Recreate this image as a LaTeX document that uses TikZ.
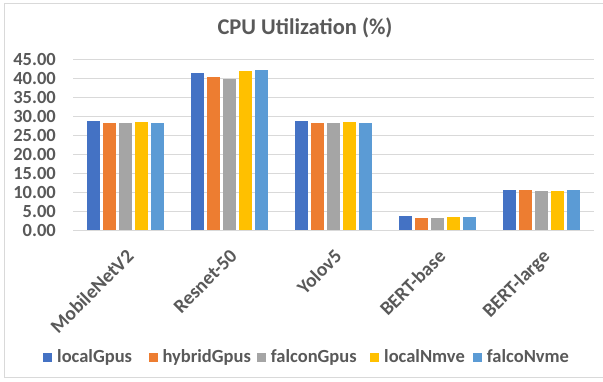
\documentclass[tikz,border=0pt]{standalone}
\usepackage{fontspec}
\setmainfont{Carlito}
\definecolor{txtgray}{HTML}{595959}
\definecolor{gridgray}{HTML}{D9D9D9}
\definecolor{cA}{HTML}{4472C4}
\definecolor{cB}{HTML}{ED7D31}
\definecolor{cC}{HTML}{A5A5A5}
\definecolor{cD}{HTML}{FFC000}
\definecolor{cE}{HTML}{5B9BD5}
% one cluster of five bars: centre x, then five values
\newcommand\cpucluster[6]{%
  \fill[cA] ({#1-38.35},230) rectangle ({#1-25.65},{230-#2*3.794});
  \fill[cB] ({#1-22.35},230) rectangle ({#1-9.65},{230-#3*3.794});
  \fill[cC] ({#1-6.35},230) rectangle ({#1+6.35},{230-#4*3.794});
  \fill[cD] ({#1+9.65},230) rectangle ({#1+22.35},{230-#5*3.794});
  \fill[cE] ({#1+25.65},230) rectangle ({#1+38.35},{230-#6*3.794});
}
\begin{document}
\begin{tikzpicture}[x=1pt,y=-1pt,
  lbl/.style={font=\fontsize{18.5}{20}\selectfont\bfseries, text=txtgray, inner sep=0pt},
  catlbl/.style={lbl, font=\fontsize{19.5}{21}\selectfont\bfseries, rotate=45, anchor=north east},
  gridline/.style={draw=gridgray, line width=1pt},
  legbox/.style={fill=#1, minimum size=9pt, inner sep=0pt, anchor=north west},
]
\useasboundingbox (0,0) rectangle (603,381);
\fill[white] (0,0) rectangle (603,381);
\draw[gridline] (4,3.5) rectangle (607,377.5);

% title
\node[lbl, font=\fontsize{22.5}{25}\selectfont\bfseries, anchor=base] (title) at (305,34) {CPU Utilization (\%)};

% horizontal gridlines and value axis labels
\foreach \v/\t in {0/0.00,5/5.00,10/10.00,15/15.00,20/20.00,25/25.00,30/30.00,35/35.00,40/40.00,45/45.00}{
  \draw[gridline] (73,{230-\v*3.794}) -- (594,{230-\v*3.794});
  \node[lbl, anchor=east] (y\v) at (56,{230-\v*3.794}) {\t};
}

% bars
\cpucluster{125.6}{28.65}{28.3}{28.1}{28.4}{28.2}
\cpucluster{229.6}{41.5}{40.3}{39.8}{42.0}{42.2}
\cpucluster{333.6}{28.65}{28.3}{28.1}{28.4}{28.2}
\cpucluster{437.6}{3.6}{3.25}{3.1}{3.4}{3.5}
\cpucluster{541.6}{10.5}{10.45}{10.3}{10.2}{10.5}

% category labels
\foreach \cx/\n/\t in {125.6/c1/MobileNetV2,229.6/c2/Resnet-50,333.6/c3/Yolov5,437.6/c4/BERT-base,541.6/c5/BERT-large}{
  \node[catlbl] (\n) at ({\cx-0.5},248) {\t};
}

% legend
\foreach \x/\c/\n/\t in {43/cA/l1/localGpus,148.3/cB/l2/hybridGpus,256.7/cC/l3/falconGpus,370/cD/l4/localNmve,472.7/cE/l5/falcoNvme}{
  \node[legbox=\c] (\n box) at (\x,352.3) {};
  \node[lbl, anchor=base west] (\n) at ({\x+14},362.3) {\t};
}
\end{tikzpicture}
\end{document}
